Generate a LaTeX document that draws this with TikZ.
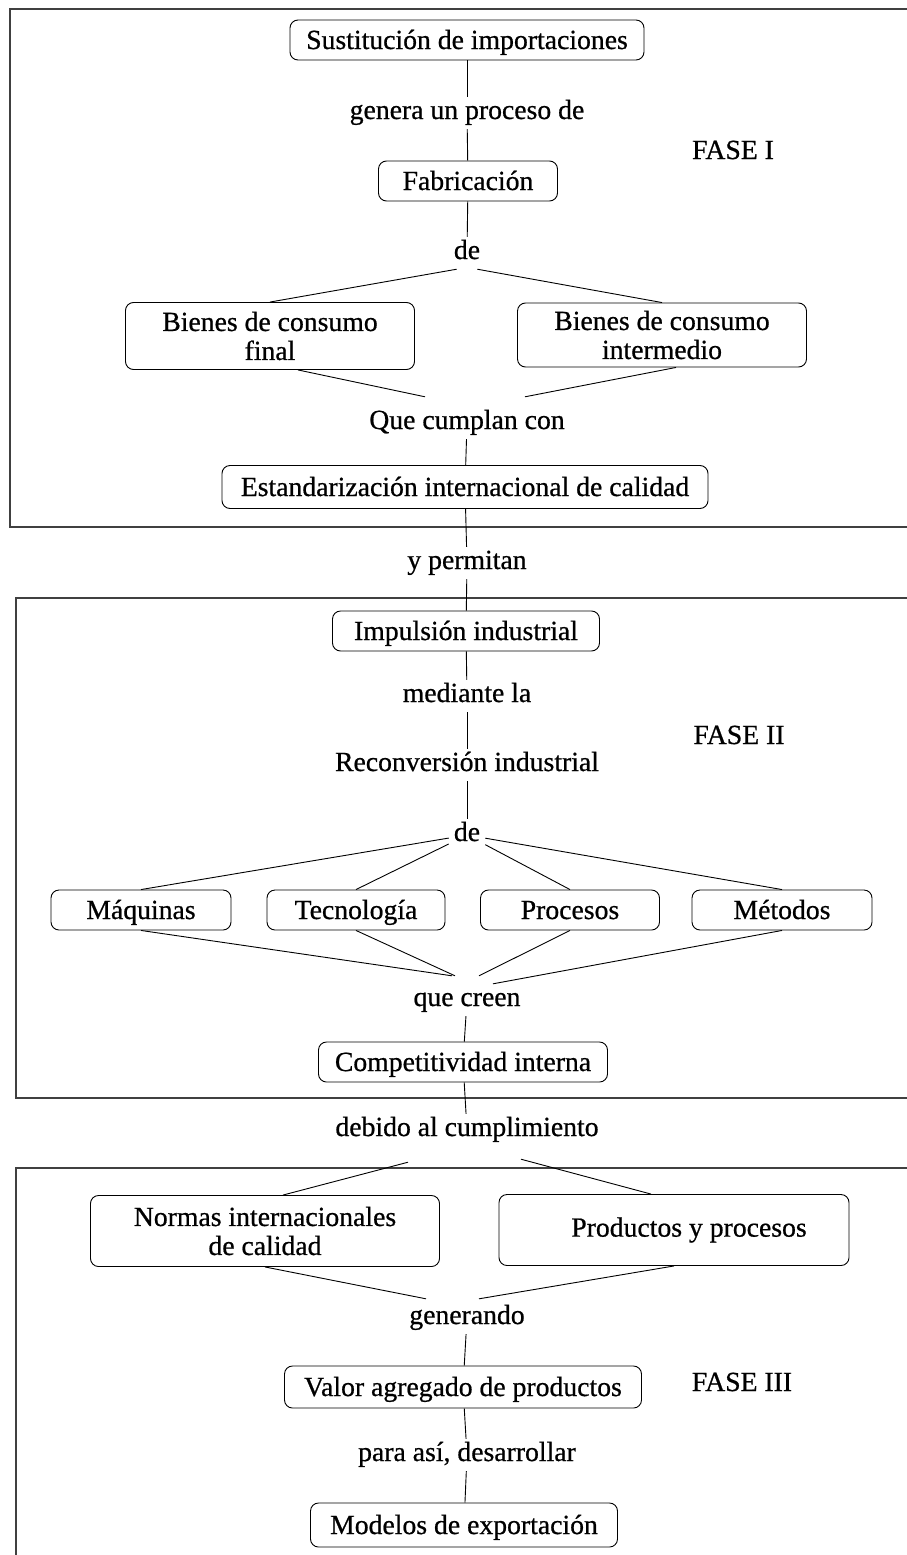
\documentclass[tikz,border=0pt]{standalone}
\usepackage{fontspec}
\setmainfont{Liberation Serif}[BoldFont=Liberation Serif, BoldFeatures={FakeBold=0.7}]

\begin{document}
\begin{tikzpicture}[x=1pt, y=-1pt,
  font=\fontsize{27.7}{29}\selectfont\bfseries,
  every node/.style={align=center, text=black},
  rbox/.style={draw, rounded corners=8pt, line width=0.9pt, minimum width=#1, minimum height=40pt, inner sep=2pt, text height=21pt, text depth=3pt},
  rboxx/.style={draw, rounded corners=8pt, line width=0.9pt, minimum width=#1, inner sep=2pt},
  lbl/.style={inner sep=5pt, text height=17pt, text depth=5pt},
  fasebox/.style={draw=black!75, line width=1.3pt},
  link/.style={line width=0.9pt}]

\useasboundingbox (0,0) rectangle (907,1555);
\clip (0,0) rectangle (907,1555);

% frames of the three phases (open to the right)
\draw[fasebox] (10,9) rectangle (920,527);
\draw[fasebox] (16,598) rectangle (920,1098);
\draw[fasebox] (16,1168) rectangle (920,1580);

%Fase I
\node[rbox=354pt] at (467,40) (sust){Sustitución de importaciones};
\node[lbl] at (467,113) (genera){genera un proceso de};
\node[lbl] at (733,153) (faseI){FASE I};
\node[rbox=179pt] at (468,181) (fab){Fabricación};
\node[lbl] at (467,253) (deI){de};
\node[rboxx=289pt, minimum height=67pt] at (270,336) (bfinal){Bienes de consumo\\final};
\node[rboxx=289pt, minimum height=64pt] at (662,335) (binter){Bienes de consumo\\intermedio};
\node[lbl] at (467,423) (cumplan){Que cumplan con};
\node[rbox=486pt, minimum height=43pt] at (465,487) (estand){Estandarización internacional de calidad};

\draw[link] (sust) -- (genera);
\draw[link] (genera) -- (fab);
\draw[link] (fab) -- (deI);
\draw[link] ([xshift=8pt]deI.south west) -- (bfinal.north);
\draw[link] ([xshift=-8pt]deI.south east) -- (binter.north);
\draw[link] ([xshift=28pt]bfinal.south) -- ([xshift=-42pt, yshift=10pt]cumplan.north);
\draw[link] ([xshift=14pt]binter.south) -- ([xshift=58pt, yshift=10pt]cumplan.north);
\draw[link] (cumplan) -- (estand);

%Fase II
\node[lbl] at (467,563) (permitan){y permitan};
\node[rbox=267pt] at (466,631) (impulsion){Impulsión industrial};
\node[lbl] at (467,696) (mediante){mediante la};
\node[lbl] at (739,738) (faseII){FASE II};
\node[lbl] at (467,765) (reconv){Reconversión industrial};
\node[lbl] at (467,835) (deII){de};
\node[rbox=180pt] at (141,910) (maq){Máquinas};
\node[rbox=178pt] at (356,910) (tec){Tecnología};
\node[rbox=179pt] at (570,910) (proc){Procesos};
\node[rbox=180pt] at (782,910) (met){Métodos};
\node[lbl] at (467,1000) (creen){que creen};
\node[rbox=289pt] at (463,1062) (compet){Competitividad interna};

\draw[link] (estand) -- (permitan);
\draw[link] (permitan) -- (impulsion);
\draw[link] (impulsion) -- (mediante);
\draw[link] (mediante) -- (reconv);
\draw[link] (reconv) -- (deII);
\draw[link] (deII) -- (maq.north);
\draw[link] (deII) -- (tec.north);
\draw[link] (deII) -- (proc.north);
\draw[link] (deII) -- (met.north);
\draw[link] (maq.south) -- ([xshift=-15pt, yshift=8pt]creen.north);
\draw[link] (tec.south) -- ([xshift=-12pt, yshift=8pt]creen.north);
\draw[link] (proc.south) -- ([xshift=12pt, yshift=8pt]creen.north);
\draw[link] (met.south) -- ([xshift=26pt]creen.north);
\draw[link] (creen) -- (compet);

%Fase III
\node[lbl] at (467,1130) (debido){debido al cumplimiento};
\node[rboxx=349pt, minimum height=71pt] at (265,1231) (normas){Normas internacionales\\de calidad};
\node[rboxx=350pt, minimum height=71pt] at (674,1230) (productos){\hspace*{30pt}Productos y procesos};
\node[lbl] at (467,1318) (generando){generando};
\node[rbox=357pt, minimum height=42pt] at (463,1387) (valor){Valor agregado de productos};
\node[lbl] at (742,1385) (faseIII){FASE III};
\node[lbl] at (467,1455) (para){para así, desarrollar};
\node[rbox=307pt, minimum height=44pt] at (464,1525) (modelos){Modelos de exportación};

\draw[link] (compet) -- (debido);
\draw[link] ([xshift=-59pt, yshift=-16pt]debido.south) -- ([xshift=18pt]normas.north);
\draw[link] ([xshift=54pt, yshift=-13pt]debido.south) -- ([xshift=-23pt]productos.north);
\draw[link] (normas.south) -- ([xshift=-41pt, yshift=3pt]generando.north);
\draw[link] (productos.south) -- ([xshift=12pt, yshift=3pt]generando.north);
\draw[link] (generando) -- (valor);
\draw[link] (valor) -- (para);
\draw[link] (para) -- (modelos);

\end{tikzpicture}
\end{document}
